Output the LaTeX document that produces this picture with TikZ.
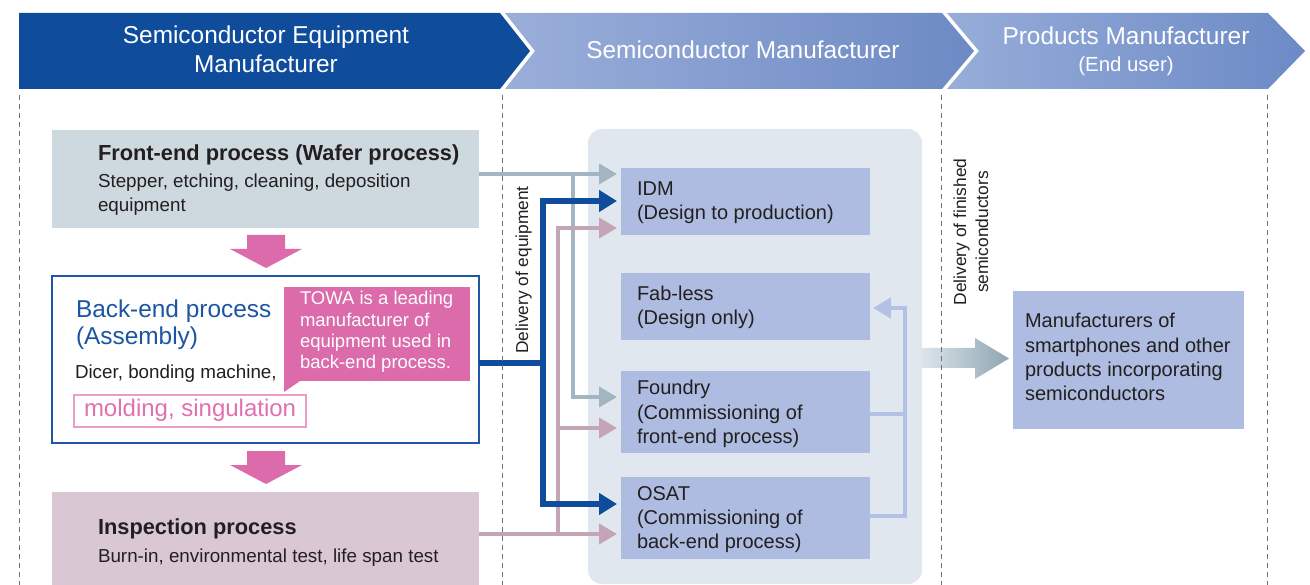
\documentclass[tikz,border=0pt]{standalone}
\usepackage{fontspec}
\setmainfont{Liberation Sans}
\usetikzlibrary{arrows.meta,calc}
\definecolor{hdrblue}{HTML}{0F4D9C}
\definecolor{hdrAl}{HTML}{9AAED9}
\definecolor{hdrAr}{HTML}{6D8AC5}
\definecolor{hdrBl}{HTML}{97ADD9}
\definecolor{hdrBr}{HTML}{6C8AC6}
\definecolor{txtc}{HTML}{231F20}
\definecolor{feC}{HTML}{CED8DF}
\definecolor{inC}{HTML}{D9C8D4}
\definecolor{beB}{HTML}{1F57A6}
\definecolor{beT}{HTML}{1B55A3}
\definecolor{pinkC}{HTML}{DB6BAA}
\definecolor{pinkL}{HTML}{EA9DC8}
\definecolor{pinkT}{HTML}{E070B0}
\definecolor{regC}{HTML}{E0E7EF}
\definecolor{boxC}{HTML}{ADBCE0}
\definecolor{grayL}{HTML}{A3B5C0}
\definecolor{pinkLine}{HTML}{C4A5B5}
\definecolor{blueLine}{HTML}{0F4D9C}
\definecolor{fbC}{HTML}{B2C1E5}
\definecolor{arrL}{HTML}{DCE4EB}
\definecolor{arrR}{HTML}{8EA6B2}
\definecolor{dashC}{HTML}{707070}
\newcommand\myfs[2]{\fontsize{#1}{#2}\selectfont}
\begin{document}
\begin{tikzpicture}[x=1pt,y=-1pt,
  blk/.style={inner sep=0pt, outer sep=0pt, anchor=north west},
  lbl/.style={inner sep=0pt, outer sep=0pt, anchor=base west, text=txtc},
  hdr/.style={inner sep=0pt, anchor=base, text=white, font=\myfs{24.4}{28}},
  ttl/.style={lbl, font=\bfseries\myfs{21.8}{26}},
  tsub/.style={lbl, font=\myfs{18.8}{22}},
  tbox/.style={lbl, font=\myfs{20}{24}},
  towat/.style={lbl, text=white, font=\myfs{18.5}{21}},
  rot/.style={inner sep=0pt, anchor=base, rotate=90, text=txtc, font=\myfs{17.4}{20}},
  pbox/.style={blk, fill=boxC, minimum width=249pt},
  gline/.style={draw=grayL, line width=3.8pt},
  pline/.style={draw=pinkLine, line width=3.8pt},
  bline/.style={draw=blueLine, line width=6pt},
  fbline/.style={draw=fbC, line width=4.5pt},
  tipg/.style={-{Triangle[length=18pt,width=20pt]}, shorten >=4pt},
  tipb/.style={-{Triangle[length=18pt,width=21pt]}, shorten >=4pt},
  tipf/.style={-{Triangle[length=18pt,width=20pt]}, shorten >=3pt},
  dashline/.style={draw=dashC, line width=1pt, dash pattern=on 5pt off 4pt}
]
\useasboundingbox (0,0) rectangle (1310,585);
\clip (0,0) rectangle (1310,585);

% header chevrons
\fill[hdrblue] (19,13) -- (500,13) -- (530,51) -- (500,89) -- (19,89) -- cycle;
\shade[left color=hdrAl, right color=hdrAr] (505,13) -- (942,13) -- (974,51) -- (942,89) -- (505,89) -- (535,51) -- cycle;
\shade[left color=hdrBl, right color=hdrBr] (947,13) -- (1268,13) -- (1305,51) -- (1268,89) -- (947,89) -- (979,51) -- cycle;

% middle region
\node[blk, fill=regC, rounded corners=14pt, minimum width=334pt, minimum height=455pt] (region) at (588,129) {};

% left boxes
\node[blk, fill=feC, minimum width=427pt, minimum height=98pt] (fe) at (52,130) {};
\node[blk, fill=white, draw=beB, line width=2.5pt, minimum width=427pt, minimum height=167pt] (be) at (52,276) {};
\node[blk, fill=inC, minimum width=427pt, minimum height=110pt] (insp) at (52,492) {};
\node[blk, draw=pinkL, line width=1.2pt, minimum width=232pt, minimum height=32pt] (mold) at (74,395) {};
\node[blk, fill=pinkC, minimum width=186pt, minimum height=94pt] (towa) at (284,287) {};
\fill[pinkC] (towa.south west) -- ++(16,0) -- ++(-16,11) -- cycle;

% pink block arrows
\fill[pinkC] (247,235) -- (285,235) -- (285,249) -- (302,249) -- (266,268) -- (230,249) -- (247,249) -- cycle;
\fill[pinkC] (247,451) -- (285,451) -- (285,465) -- (302,465) -- (266,484) -- (230,465) -- (247,465) -- cycle;

% semiconductor manufacturer boxes
\node[pbox, minimum height=67pt] (idm) at (621,168) {};
\node[pbox, minimum height=67pt] (fabless) at (621,273) {};
\node[pbox, minimum height=82pt] (foundry) at (621,371) {};
\node[pbox, minimum height=82pt] (osat) at (621,477) {};
\node[blk, fill=boxC, minimum width=231pt, minimum height=138pt] (enduser) at (1013,291) {};

% connector coordinates
\coordinate (gx) at (573,0);
\coordinate (gy) at (0,174);
\coordinate (gyf) at (0,397);
\coordinate (px) at (558,0);
\coordinate (pyi) at (0,534);
\coordinate (pyd) at (0,228);
\coordinate (pyf) at (0,428);
\coordinate (bx) at (543,0);
\coordinate (byb) at (0,363);
\coordinate (byi) at (0,201);
\coordinate (byo) at (0,504);
\coordinate (fbx) at (905,0);
\coordinate (fyl) at (0,308);
\coordinate (fyf) at (0,414);
\coordinate (fyo) at (0,516);

% gray connectors (front-end)
\draw[gline, tipg] (fe.east |- gy) -- (idm.west |- gy);
\draw[gline, tipg] (gx |- gy) |- (foundry.west |- gyf);
% pink connectors (inspection)
\draw[pline, tipg] (insp.east |- pyi) -- (osat.west |- pyi);
\draw[pline, tipg] (px |- pyi) |- (idm.west |- pyd);
\draw[pline, tipg] (px |- pyf) -- (foundry.west |- pyf);
% blue connectors (back-end)
\draw[bline, tipb, line join=miter] (be.east |- byb) -| (bx |- byi) -- (idm.west |- byi);
\draw[bline, tipb, line join=miter] (bx |- byb) |- (osat.west |- byo);
% feedback to fab-less
\draw[fbline, tipf, line join=miter] (osat.east |- fyo) -| (fbx |- fyl) -- (fabless.east |- fyl);
\draw[fbline] (foundry.east |- fyf) -- (fbx |- fyf);

% delivery arrow
\shade[left color=arrL, right color=arrR] (922,348) -- (975,348) -- (975,338) -- (1009,358.5) -- (975,379) -- (975,368) -- (922,368) -- cycle;

% dashed column lines
\draw[dashline] (19,95) -- (19,590);
\draw[dashline] (502,95) -- (502,590);
\draw[dashline] (941,95) -- (941,590);
\draw[dashline] (1267,95) -- (1267,590);

% header texts
\node[hdr] (h1a) at (266,44) {Semiconductor Equipment};
\node[hdr] (h1b) at (266,73) {Manufacturer};
\node[hdr] (h2) at (743,59) {Semiconductor Manufacturer};
\node[hdr] (h3a) at (1126,45) {Products Manufacturer};
\node[hdr, font=\myfs{20.4}{24}] (h3b) at (1126,72) {(End user)};

% front-end texts
\node[ttl] (fe1) at (98,161) {Front-end process (Wafer process)};
\node[tsub] (fe2) at (98,188) {Stepper, etching, cleaning, deposition};
\node[tsub] (fe3) at (98,212) {equipment};

% back-end texts
\node[lbl, text=beT, font=\myfs{24.4}{28}] (be1) at (76,318) {Back-end process};
\node[lbl, text=beT, font=\myfs{24.4}{28}] (be2) at (76,345) {(Assembly)};
\node[tsub] (be3) at (75,379) {Dicer, bonding machine,};
\node[lbl, text=pinkT, font=\myfs{24}{28}] (be4) at (84,417) {molding, singulation};

% TOWA callout text
\node[towat] (tw1) at (300,305) {TOWA is a leading};
\node[towat] (tw2) at (300,327) {manufacturer of};
\node[towat] (tw3) at (300,348) {equipment used in};
\node[towat] (tw4) at (300,369) {back-end process.};

% inspection texts
\node[ttl] (in1) at (98,534) {Inspection process};
\node[tsub] (in2) at (98,562) {Burn-in, environmental test, life span test};

% semiconductor manufacturer texts
\node[tbox] (idm1) at (637,196) {IDM};
\node[tbox] (idm2) at (637,220) {(Design to production)};
\node[tbox] (fl1) at (637,301) {Fab-less};
\node[tbox] (fl2) at (637,325) {(Design only)};
\node[tbox] (fo1) at (637,395) {Foundry};
\node[tbox] (fo2) at (637,419) {(Commissioning of};
\node[tbox] (fo3) at (637,443) {front-end process)};
\node[tbox] (os1) at (637,500) {OSAT};
\node[tbox] (os2) at (637,524) {(Commissioning of};
\node[tbox] (os3) at (637,548) {back-end process)};

% end user texts
\node[tbox] (eu1) at (1025,328) {Manufacturers of};
\node[tbox] (eu2) at (1025,353) {smartphones and other};
\node[tbox] (eu3) at (1025,377) {products incorporating};
\node[tbox] (eu4) at (1025,401) {semiconductors};

% rotated labels
\node[rot, font=\myfs{17.3}{20}] (deq) at (528,270) {Delivery of equipment};
\node[rot] (dfs1) at (966,232) {Delivery of finished};
\node[rot] (dfs2) at (988,232) {semiconductors};
\end{tikzpicture}
\end{document}
